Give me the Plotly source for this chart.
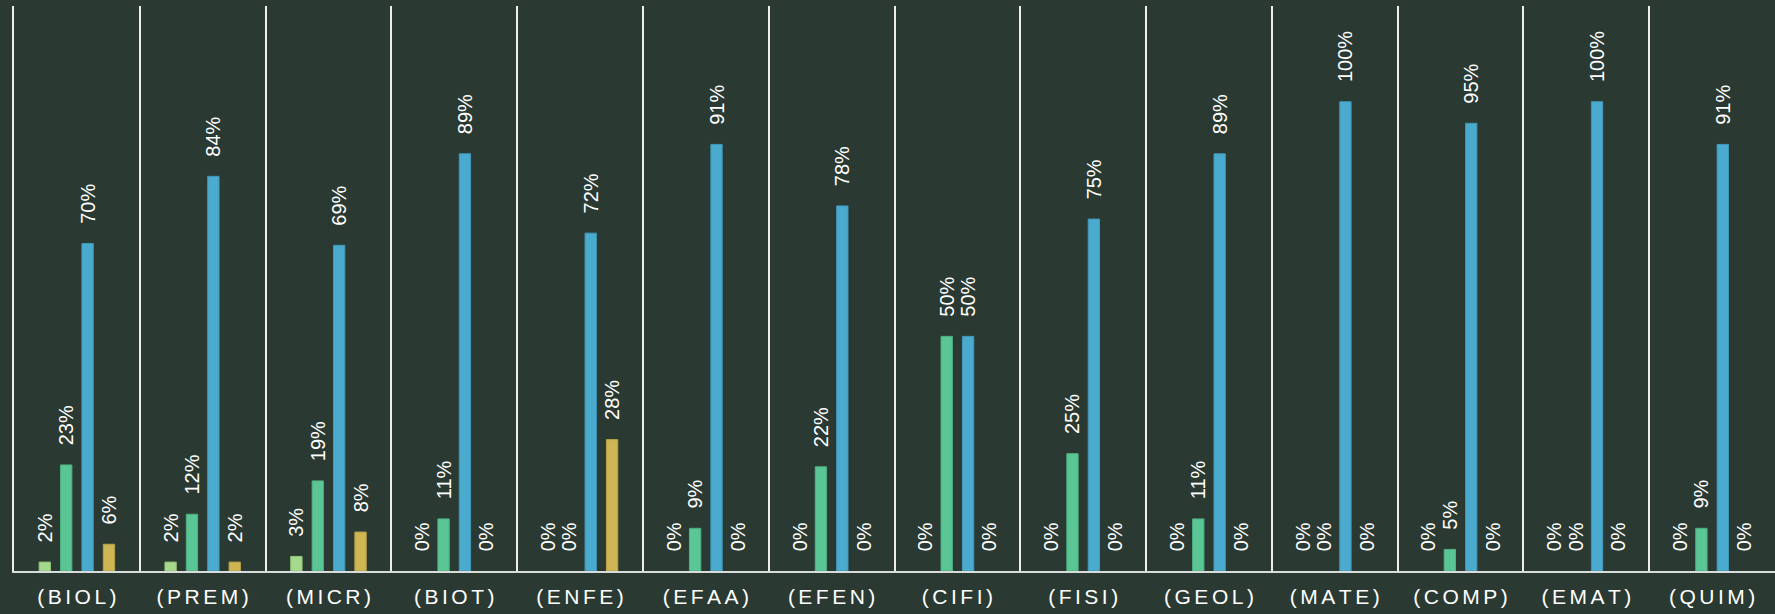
import plotly.graph_objects as go

categories = ["(BIOL)", "(PREM)", "(MICR)", "(BIOT)", "(ENFE)", "(EFAA)", "(EFEN)",
              "(CIFI)", "(FISI)", "(GEOL)", "(MATE)", "(COMP)", "(EMAT)", "(QUIM)"]

serie_1 = [1.9, 1.9, 3.1, 0, 0, 0, 0, 0, 0, 0, 0, 0, 0, 0]
serie_2 = [22.6, 12.1, 19.2, 11.1, 0, 9.1, 22.2, 50.0, 25.0, 11.1, 0, 4.6, 0, 9.1]
serie_3 = [69.8, 84.1, 69.4, 88.9, 72.0, 90.9, 77.8, 50.0, 75.0, 88.9, 100.0, 95.4, 100.0, 90.9]
serie_4 = [5.7, 1.9, 8.3, 0, 28.0, 0, 0, 0, 0, 0, 0, 0, 0, 0]

series = [
    ("Serie 1", serie_1, "#a5d98b", "#93c47a"),
    ("Serie 2", serie_2, "#5bc695", "#4fb083"),
    ("Serie 3", serie_3, "#4aabcf", "#4298b9"),
    ("Serie 4", serie_4, "#cdb653", "#b8a249"),
]

BG = "#2a3a32"
FONT = "Arial, Liberation Sans, sans-serif"

fig = go.Figure()
for name, vals, color, edge in series:
    fig.add_trace(go.Bar(
        name=name,
        x=categories,
        y=vals,
        marker=dict(color=color,
                    line=dict(color=edge, width=[1 if v > 0 else 0 for v in vals])),
        texttemplate="\u00a0\u00a0\u00a0%{y:.0f}%",
        textposition="outside",
        textangle=-90,
        constraintext="none",
        cliponaxis=False,
        textfont=dict(family=FONT, size=20, color="#ffffff"),
        hoverinfo="x+y",
    ))

ticktext = ["\u2006".join(list(c)) for c in categories]

fig.update_layout(
    width=1775,
    height=614,
    paper_bgcolor=BG,
    plot_bgcolor=BG,
    barmode="group",
    bargap=0.32,
    bargroupgap=0.47,
    showlegend=False,
    margin=dict(l=14, r=0, t=6, b=43, autoexpand=False),
    font=dict(family=FONT, color="#ffffff"),
    xaxis=dict(
        type="category",
        automargin=False,
        tickson="boundaries",
        showgrid=True,
        gridcolor="#eeeeee",
        gridwidth=2,
        ticks="",
        showline=True,
        linecolor="#d8dcda",
        linewidth=2,
        tickvals=categories,
        ticktext=ticktext,
        tickfont=dict(family=FONT, size=21, color="#ffffff"),
        ticklabelstandoff=6,
        zeroline=False,
    ),
    yaxis=dict(
        automargin=False,
        range=[0, 120.4],
        showgrid=False,
        showticklabels=False,
        zeroline=False,
        ticks="",
        showline=True,
        linecolor="#eeeeee",
        linewidth=2,
        mirror=False,
    ),
)

fig.write_html(
    "out.html",
    config={"displayModeBar": False},
    post_script="document.body.style.margin='0';document.body.style.background='" + BG + "';",
)
